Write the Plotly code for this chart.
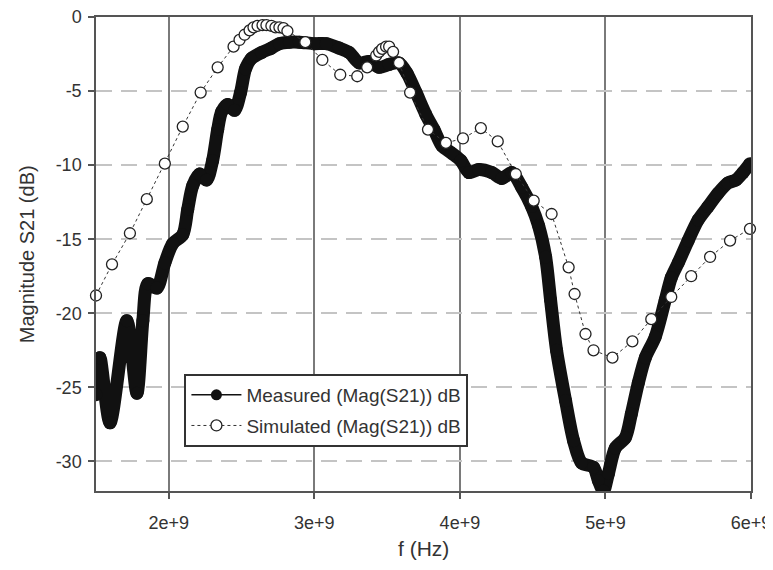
import plotly.graph_objects as go

# Measured |S21| (dB) vs frequency (Hz)
meas_f = [1.500e9, 1.527e9, 1.596e9, 1.712e9, 1.781e9, 1.822e9, 1.856e9, 1.918e9, 1.973e9, 2.027e9,
          2.096e9, 2.130e9, 2.164e9, 2.212e9, 2.260e9, 2.301e9, 2.336e9, 2.363e9, 2.404e9, 2.452e9,
          2.493e9, 2.527e9, 2.568e9, 2.637e9, 2.705e9, 2.760e9, 2.829e9, 2.897e9, 3.000e9, 3.082e9,
          3.171e9, 3.240e9, 3.308e9, 3.377e9, 3.445e9, 3.514e9, 3.582e9, 3.637e9, 3.699e9, 3.767e9,
          3.822e9, 3.877e9, 3.945e9, 4.007e9, 4.062e9, 4.130e9, 4.219e9, 4.288e9, 4.356e9, 4.425e9,
          4.493e9, 4.541e9, 4.589e9, 4.623e9, 4.664e9, 4.726e9, 4.781e9, 4.836e9, 4.918e9, 4.952e9,
          4.986e9, 5.021e9, 5.068e9, 5.137e9, 5.178e9, 5.226e9, 5.274e9, 5.342e9, 5.411e9, 5.452e9,
          5.500e9, 5.568e9, 5.637e9, 5.705e9, 5.774e9, 5.842e9, 5.897e9, 5.945e9, 5.993e9]
meas_db = [-25.5, -23.0, -27.4, -20.5, -25.4, -20.5, -18.0, -18.3, -16.6, -15.3,
           -14.7, -13.0, -11.4, -10.6, -11.0, -9.7, -7.6, -6.4, -5.9, -6.3,
           -5.1, -3.5, -2.8, -2.4, -2.1, -1.8, -1.7, -1.7, -1.8, -1.8,
           -2.1, -2.4, -3.1, -3.0, -3.4, -3.2, -3.1, -3.8, -5.1, -6.6,
           -7.6, -8.7, -9.2, -9.7, -10.5, -10.3, -10.5, -10.9, -10.5, -11.5,
           -12.8, -14.1, -16.2, -19.1, -22.5, -25.9, -28.6, -30.1, -30.4, -31.3,
           -32.0, -30.8, -29.1, -28.4, -26.8, -24.7, -23.0, -21.6, -19.1, -17.6,
           -16.6, -15.1, -13.7, -12.8, -11.9, -11.2, -11.0, -10.5, -9.9]

# Simulated |S21| (dB) vs frequency (Hz)
sim_f = [1.500e9, 1.610e9, 1.733e9, 1.849e9, 1.973e9, 2.096e9, 2.219e9, 2.336e9, 2.445e9, 2.486e9,
         2.521e9, 2.555e9, 2.582e9, 2.610e9, 2.644e9, 2.671e9, 2.705e9, 2.733e9, 2.760e9, 2.788e9,
         2.815e9, 2.938e9, 3.055e9, 3.178e9, 3.295e9, 3.363e9, 3.425e9, 3.445e9, 3.466e9, 3.493e9,
         3.514e9, 3.541e9, 3.582e9, 3.658e9, 3.781e9, 3.904e9, 4.021e9, 4.144e9, 4.260e9, 4.384e9,
         4.507e9, 4.630e9, 4.747e9, 4.788e9, 4.863e9, 4.918e9, 5.048e9, 5.185e9, 5.315e9, 5.452e9,
         5.589e9, 5.719e9, 5.856e9, 5.993e9]
sim_db = [-18.8, -16.7, -14.6, -12.3, -9.9, -7.4, -5.1, -3.4, -2.0, -1.55,
          -1.2, -0.9, -0.7, -0.6, -0.55, -0.55, -0.6, -0.7, -0.7, -0.75,
          -0.95, -1.7, -2.9, -3.9, -4.0, -3.4, -2.6, -2.35, -2.15, -2.0,
          -2.0, -2.35, -3.1, -5.1, -7.6, -8.5, -8.2, -7.5, -8.4, -10.6,
          -12.4, -13.3, -16.9, -18.7, -21.4, -22.5, -23.0, -21.9, -20.4, -18.9,
          -17.5, -16.2, -15.1, -14.3]

x_ticks = [2e9, 3e9, 4e9, 5e9, 6e9]
x_tick_labels = ["2e+9", "3e+9", "4e+9", "5e+9", "6e+9"]
y_ticks = [0, -5, -10, -15, -20, -25, -30]
y_tick_labels = ["0", "-5", "-10", "-15", "-20", "-25", "-30"]

FONT = "Liberation Sans, Arial, sans-serif"
TXT = "#333333"
fig = go.Figure()

fig.add_trace(go.Scatter(
    x=meas_f, y=meas_db, mode="lines+markers", showlegend=False,
    line=dict(color="#111111", width=13, shape="spline", smoothing=0.8),
    marker=dict(color="#111111", size=13), legendgroup="m"))
fig.add_trace(go.Scatter(
    x=[None], y=[None], mode="lines+markers", name="Measured (Mag(S21)) dB",
    line=dict(color="#111111", width=1.5), marker=dict(color="#111111", size=11),
    legendgroup="m"))
fig.add_trace(go.Scatter(
    x=sim_f, y=sim_db, mode="lines+markers", name="Simulated (Mag(S21)) dB",
    line=dict(color="#333333", width=1, dash="dot"),
    marker=dict(symbol="circle", size=11, color="white", line=dict(color="#222222", width=1.3)),
    cliponaxis=False, legendgroup="s"))

fig.update_layout(
    width=765, height=562,
    margin=dict(l=88, r=22, t=9, b=79),
    paper_bgcolor="white", plot_bgcolor="white",
    font=dict(family=FONT, size=18, color=TXT),
    legend=dict(x=0.135, y=0.247, xanchor="left", yanchor="top",
                bgcolor="white", bordercolor="#333333", borderwidth=2,
                font=dict(size=19, color=TXT), tracegroupgap=3,
                traceorder="grouped", itemwidth=50),
    xaxis=dict(range=[1.5e9, 6e9], tickvals=x_ticks, ticktext=x_tick_labels,
               showgrid=True, gridcolor="#7a7a7a", gridwidth=1.5,
               showline=True, linecolor="#555555", linewidth=1.5, mirror=True,
               ticks="outside", ticklen=6, tickcolor="#555555", tickwidth=1.5,
               zeroline=False, automargin=False, ticklabelstandoff=9,
               ticklabeloverflow="allow"),
    yaxis=dict(range=[-32, 0], tickvals=y_ticks, ticktext=y_tick_labels,
               showgrid=True, gridcolor="#c4c4c4", gridwidth=2, griddash="16px,9px",
               showline=True, linecolor="#555555", linewidth=1.5, mirror=True,
               ticks="outside", ticklen=6, tickcolor="#555555", tickwidth=1.5,
               zeroline=False, automargin=False, ticklabelstandoff=3,
               ticklabeloverflow="allow"),
    annotations=[
        dict(text="f (Hz)", xref="paper", yref="paper", x=0.5, y=-0.122,
             xanchor="center", yanchor="middle", showarrow=False,
             font=dict(size=21, color=TXT)),
        dict(text="Magnitude S21 (dB)", xref="paper", yref="paper", x=-0.105, y=0.5,
             xanchor="center", yanchor="middle", showarrow=False, textangle=-90,
             font=dict(size=20, color=TXT)),
    ],
)

fig.write_html("out.html")
